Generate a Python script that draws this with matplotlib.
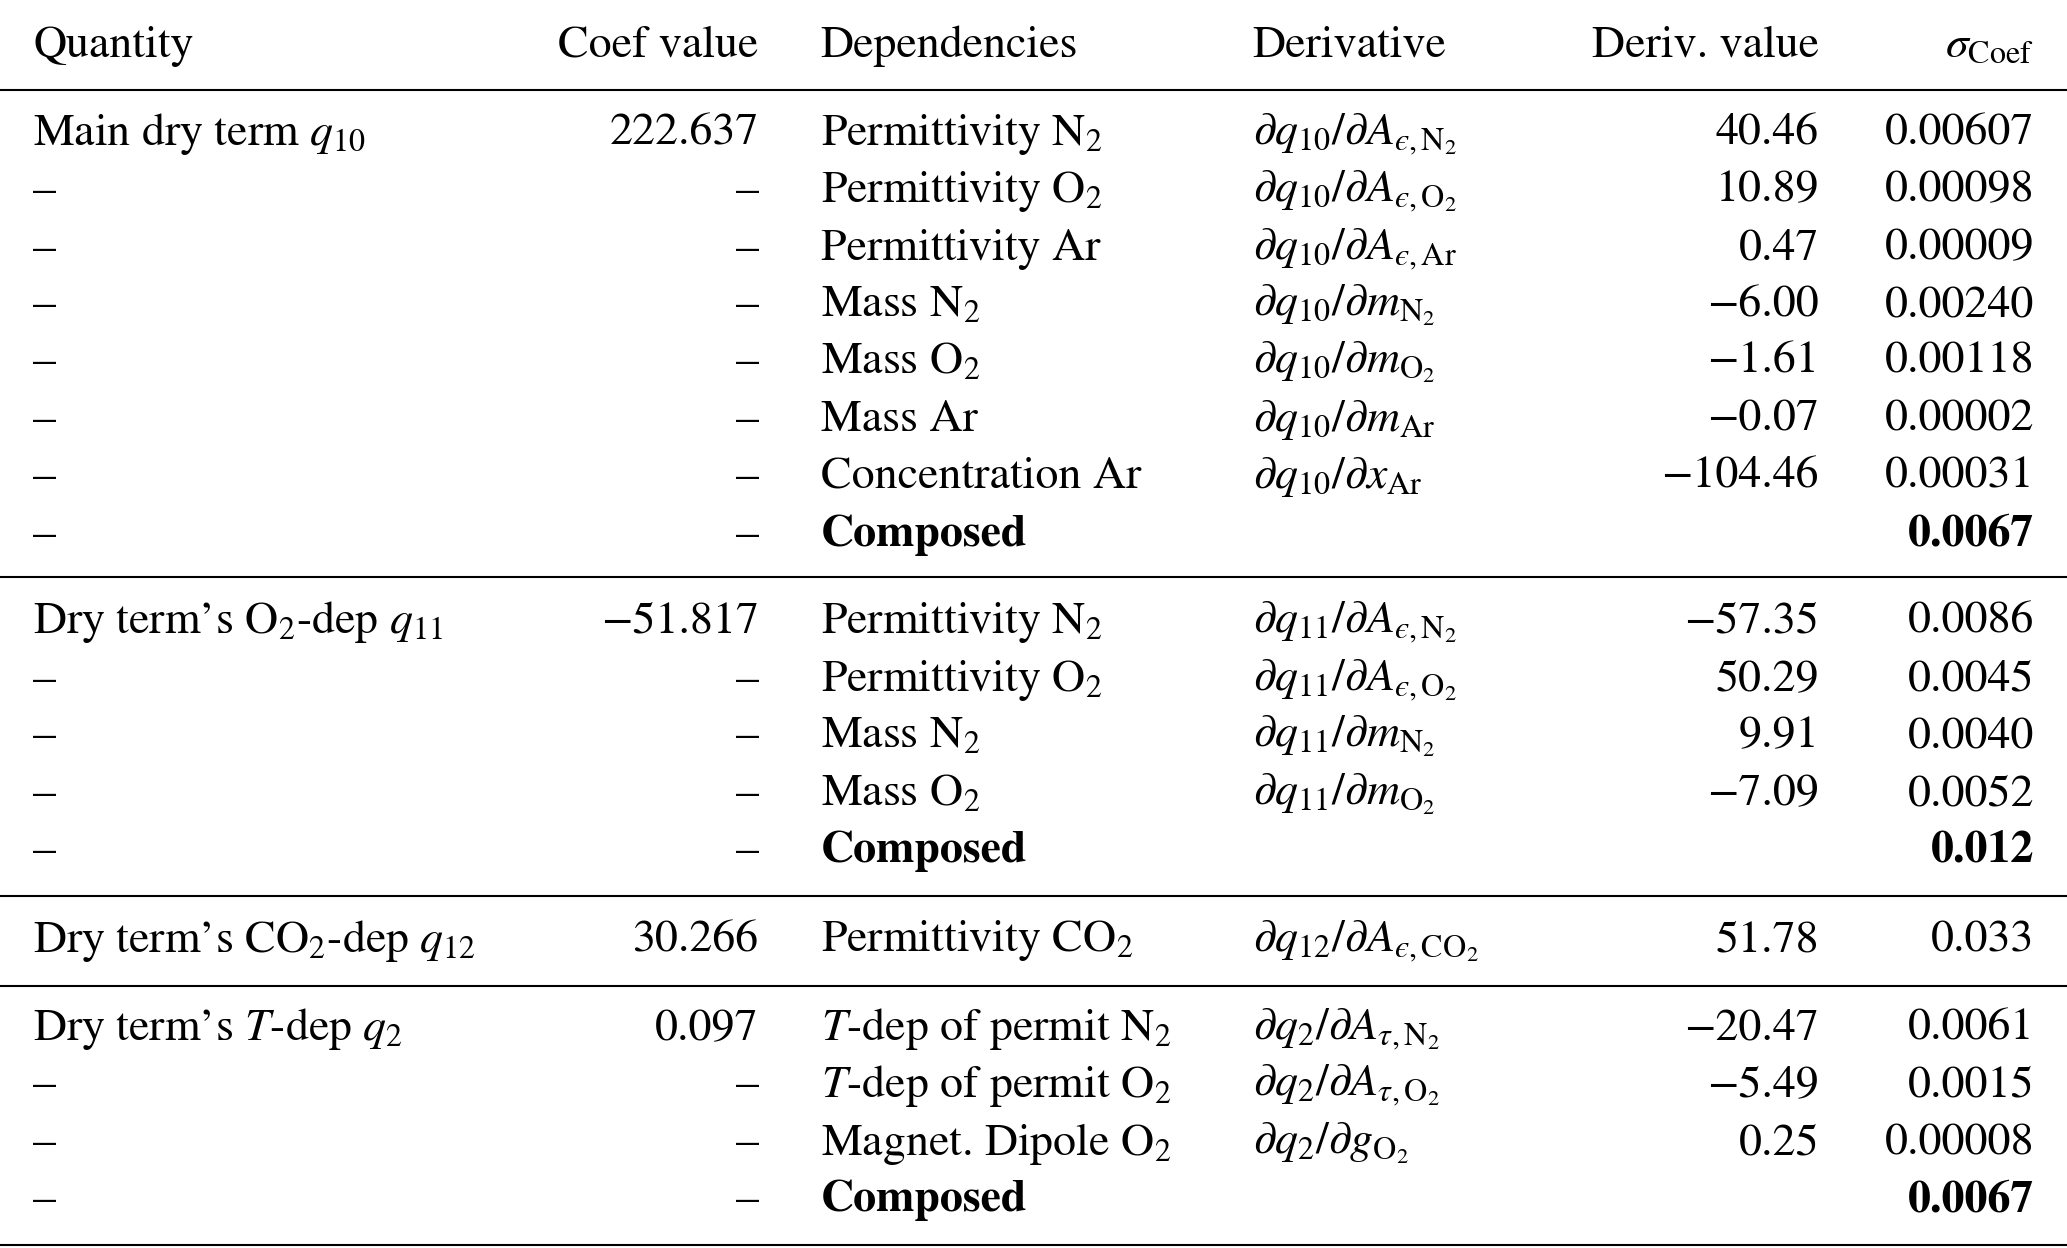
import matplotlib
matplotlib.use("Agg")
import matplotlib.pyplot as plt

plt.rcParams['font.family'] = 'STIXGeneral'
plt.rcParams['mathtext.fontset'] = 'stix'

H = 947.0

header = ['Quantity', 'Coef value', 'Dependencies', 'Derivative', 'Deriv. value', r'$\sigma_{\mathrm{Coef}}$']

E = 'ϵ'
# (y, quantity, coef, dependency, derivative, deriv value, sigma)
rows = [
    (100, r'Main dry term $q_{10}$', '222.637', r'Permittivity N$_2$', r'$\partial q_{10}/\partial A_{' + E + r',\mathrm{N}_2}$', '40.46', '0.00607'),
    (143, '–', '–', r'Permittivity O$_2$', r'$\partial q_{10}/\partial A_{' + E + r',\mathrm{O}_2}$', '10.89', '0.00098'),
    (187, '–', '–', 'Permittivity Ar', r'$\partial q_{10}/\partial A_{' + E + r',\mathrm{Ar}}$', '0.47', '0.00009'),
    (230, '–', '–', r'Mass N$_2$', r'$\partial q_{10}/\partial m_{\mathrm{N}_2}$', '−6.00', '0.00240'),
    (273, '–', '–', r'Mass O$_2$', r'$\partial q_{10}/\partial m_{\mathrm{O}_2}$', '−1.61', '0.00118'),
    (317, '–', '–', 'Mass Ar', r'$\partial q_{10}/\partial m_{\mathrm{Ar}}$', '−0.07', '0.00002'),
    (360, '–', '–', 'Concentration Ar', r'$\partial q_{10}/\partial x_{\mathrm{Ar}}$', '−104.46', '0.00031'),
    (404, '–', '–', 'Composed', '', '', '0.0067'),
    (470, r'Dry term’s O$_2$-dep $q_{11}$', '−51.817', r'Permittivity N$_2$', r'$\partial q_{11}/\partial A_{' + E + r',\mathrm{N}_2}$', '−57.35', '0.0086'),
    (514, '–', '–', r'Permittivity O$_2$', r'$\partial q_{11}/\partial A_{' + E + r',\mathrm{O}_2}$', '50.29', '0.0045'),
    (557, '–', '–', r'Mass N$_2$', r'$\partial q_{11}/\partial m_{\mathrm{N}_2}$', '9.91', '0.0040'),
    (601, '–', '–', r'Mass O$_2$', r'$\partial q_{11}/\partial m_{\mathrm{O}_2}$', '−7.09', '0.0052'),
    (644, '–', '–', 'Composed', '', '', '0.012'),
    (712, r'Dry term’s CO$_2$-dep $q_{12}$', '30.266', r'Permittivity CO$_2$', r'$\partial q_{12}/\partial A_{' + E + r',\mathrm{CO}_2}$', '51.78', '0.033'),
    (779, r'Dry term’s $T$-dep $q_2$', '0.097', r'$T$-dep of permit N$_2$', r'$\partial q_2/\partial A_{\tau,\mathrm{N}_2}$', '−20.47', '0.0061'),
    (822, '–', '–', r'$T$-dep of permit O$_2$', r'$\partial q_2/\partial A_{\tau,\mathrm{O}_2}$', '−5.49', '0.0015'),
    (866, '–', '–', r'Magnet. Dipole O$_2$', r'$\partial q_2/\partial g_{\mathrm{O}_2}$', '0.25', '0.00008'),
    (909, '–', '–', 'Composed', '', '', '0.0067'),
]

rules = [68, 438, 680, 748, 945]

# column x positions (fraction of width) and alignment
cols = [(0.016, 'left'), (0.367, 'right'), (0.397, 'left'), (0.606, 'left'), (0.880, 'right'), (0.984, 'right')]

fig = plt.figure(figsize=(20.67, 12.48), dpi=100)
ax = fig.add_axes([0, 0, 1, 1])
ax.set_xlim(0, 1)
ax.set_ylim(H, 0)
ax.axis('off')

fs = 33
for (x, ha), t in zip(cols, header):
    ax.text(x, 35, t, ha=ha, va='center', fontsize=fs)

for r in rows:
    y = r[0] + 2
    bold = r[3] == 'Composed'
    for i, ((x, ha), t) in enumerate(zip(cols, r[1:])):
        w = 'bold' if bold and i in (2, 5) else 'normal'
        ax.text(x, y, t, ha=ha, va='center', fontsize=fs, fontweight=w)

for y in rules:
    ax.axhline(y, color='black', lw=1.5)

fig.savefig('out.png', dpi=100)
